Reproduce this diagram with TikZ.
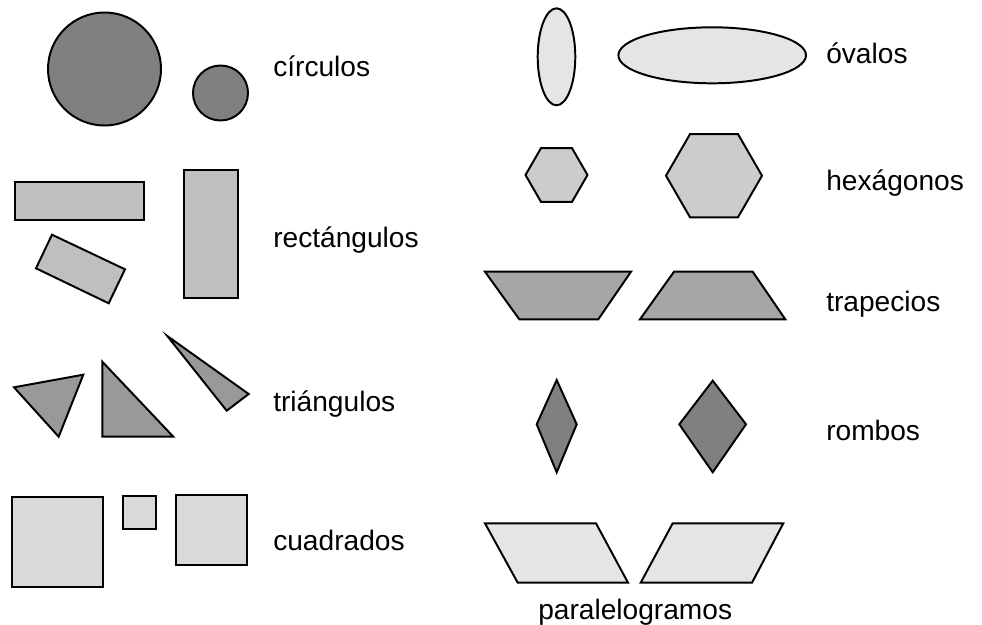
\documentclass[tikz,border=0pt]{standalone}
\usepackage{fontspec}
\setmainfont{Liberation Sans}
\begin{document}
\begin{tikzpicture}[
    x=0.025cm, y=-0.025cm,
    line join=miter,
    outline/.style={draw=black, line width=1.4pt},
    circfill/.style={outline, fill=black!50},
    rectfill/.style={outline, fill=black!25},
    trifill/.style={outline, fill=black!40},
    sqfill/.style={outline, fill=black!15},
    ovalfill/.style={outline, fill=black!10},
    hexfill/.style={outline, fill=black!20},
    trapfill/.style={outline, fill=black!35},
    rhombfill/.style={outline, fill=black!50},
    parafill/.style={outline, fill=black!10},
    caption/.style={anchor=base west, inner sep=0pt, font=\fontsize{20}{24}\selectfont}
]
\useasboundingbox (0,0) rectangle (982,625);

% circulos
\draw[circfill] (104.5,69) ellipse [x radius=56.5, y radius=56.5];
\draw[circfill] (220.5,93) ellipse [x radius=27.5, y radius=27.5];
\node[caption] (circulos) at (273,76) {círculos};

% rectangulos
\draw[rectfill] (15,182) rectangle (144,220);
\draw[rectfill] (52,234.7) -- (125,269.3) -- (108.7,303.3) -- (36,268.3) -- cycle;
\draw[rectfill] (184,170) rectangle (238.3,298.3);
\node[caption] (rectangulos) at (273,247) {rectángulos};

% triangulos
\draw[trifill] (14,387.3) -- (83.3,374.7) -- (58.7,436.7) -- cycle;
\draw[trifill] (102.3,361.7) -- (102.3,436.7) -- (173.3,436.7) -- cycle;
\draw[trifill] (167.3,336) -- (248.7,394) -- (226.7,410.7) -- cycle;
\node[caption] (triangulos) at (273,411) {triángulos};

% cuadrados
\draw[sqfill] (12,496.7) rectangle (103.3,587.3);
\draw[sqfill] (122.7,496) rectangle (155.7,529.3);
\draw[sqfill] (176,495.3) rectangle (246.7,565.3);
\node[caption] (cuadrados) at (273,550) {cuadrados};

% ovalos
\draw[ovalfill] (556.5,56.8) ellipse [x radius=18.8, y radius=48.5];
\draw[ovalfill] (712.2,55.3) ellipse [x radius=93.8, y radius=28];
\node[caption] (ovalos) at (826,63) {óvalos};

% hexagonos
\draw[hexfill] (556.5,175) +(0:31) -- +(60:31) -- +(120:31) -- +(180:31) -- +(240:31) -- +(300:31) -- cycle;
\draw[hexfill] (714,175.7) +(0:48) -- +(60:48) -- +(120:48) -- +(180:48) -- +(240:48) -- +(300:48) -- cycle;
\node[caption] (hexagonos) at (826,190) {hexágonos};

% trapecios
\draw[trapfill] (485,271.7) -- (631,271.7) -- (598.3,319.3) -- (519.3,319.3) -- cycle;
\draw[trapfill] (674,271.7) -- (752.7,271.7) -- (785.3,319.3) -- (640,319.3) -- cycle;
\node[caption] (trapecios) at (826,311) {trapecios};

% rombos
\draw[rhombfill] (556.7,380) -- (576.7,424.3) -- (556.7,472.3) -- (536.7,424.3) -- cycle;
\draw[rhombfill] (712.7,380.7) -- (746,424.3) -- (712.7,472.3) -- (679.3,424.3) -- cycle;
\node[caption] (rombos) at (826,440) {rombos};

% paralelogramos
\draw[parafill] (485,523.3) -- (596,523.3) -- (628,582.7) -- (517.7,582.7) -- cycle;
\draw[parafill] (672.7,523.3) -- (783.3,523.3) -- (752,582.7) -- (640.7,582.7) -- cycle;
\node[caption] (paralelogramos) at (538,619) {paralelogramos};
\end{tikzpicture}
\end{document}
